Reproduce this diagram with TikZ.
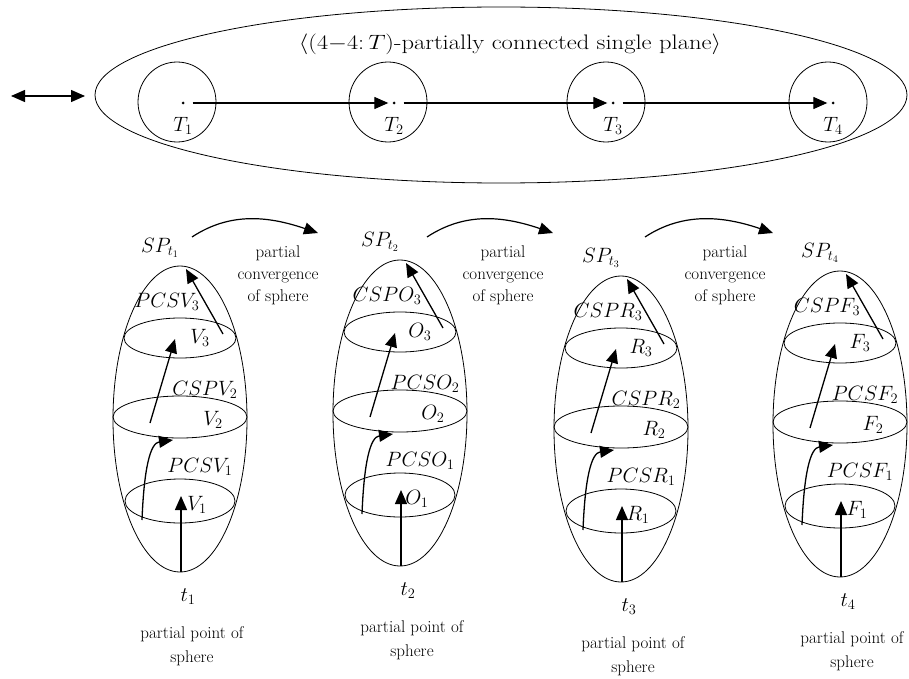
\documentclass[tikz,border=0pt]{standalone}
\usetikzlibrary{arrows.meta,shapes.geometric}
\begin{document}
\begin{tikzpicture}[x=1pt,y=-1pt,
  ell/.style={ellipse,draw,line width=0.8pt,inner sep=0pt,outer sep=0pt},
  arr/.style={line width=1.3pt,-{Triangle[length=14pt,width=12pt]}},
  txt/.style={font=\fontsize{17}{22}\selectfont,align=center,inner sep=0pt},
  lab/.style={font=\fontsize{19.5}{19.5}\selectfont,inner sep=0pt},
  tlab/.style={font=\fontsize{21}{21}\selectfont,inner sep=0pt},
  dot/.style={circle,fill,inner sep=0pt,minimum size=3pt}]
\useasboundingbox (0,0) rectangle (909,679);
% top plane
\node[ell,minimum width=812pt,minimum height=176pt] (plane) at (501,95) {};
\node[font=\fontsize{21}{21}\selectfont,inner sep=0pt,xscale=1.17] (title) at (510,44)
  {$\langle(4{-}4{:}\,T)$-partially connected single plane$\rangle$};
\foreach \i/\cx/\dx in {1/177/183,2/388/394,3/606/613,4/828/833}{
  \node[ell,minimum width=78pt,minimum height=80pt] (C\i) at (\cx,102) {};
  \node[dot] (D\i) at (\dx,103) {};
  \node[tlab] (TL\i) at (\dx,126) {$T_\i$};
}
\draw[arr] ([xshift=8pt]D1.east) -- ([xshift=-4pt]D2.west);
\draw[arr] ([xshift=8pt]D2.east) -- ([xshift=-4pt]D3.west);
\draw[arr] ([xshift=8pt]D3.east) -- ([xshift=-4pt]D4.west);
\coordinate (L1) at (11,96);
\coordinate (L2) at (85,96);
\draw[line width=1.3pt,{Triangle[length=14pt,width=12pt]}-{Triangle[length=14pt,width=12pt]}] (L1) -- (L2);
% spheres
\foreach \i/\cx/\cy/\L/\a/\b/\c in {1/180/419/V/PCS/CSP/PCS,2/400/413/O/CSP/PCS/PCS,3/621/429/R/CSP/CSP/PCS,4/840/424/F/CSP/PCS/PCS}{
  \node[ell,minimum width=134pt,minimum height=306pt] (S\i) at (\cx,\cy) {};
  \node[ell,minimum width=112pt,minimum height=40pt] (U\i) at (\cx,\cy-81) {};
  \node[ell,minimum width=134pt,minimum height=42pt] (M\i) at (\cx,\cy-2) {};
  \node[ell,minimum width=110pt,minimum height=44pt] (B\i) at (\cx,\cy+82) {};
  \node[lab] (SP\i) at (\cx-20,\cy-171) {$SP_{t_\i}$};
  \node[lab] (l3\i) at (\cx-13,\cy-117) {$\a\L_3$};
  \node[lab] (v3\i) at (\cx+20,\cy-81) {$\L_3$};
  \node[lab] (l2\i) at (\cx+25,\cy-29) {$\b\L_2$};
  \node[lab] (v2\i) at (\cx+33,\cy+1) {$\L_2$};
  \node[lab] (l1\i) at (\cx+20,\cy+48) {$\c\L_1$};
  \node[lab] (v1\i) at (\cx+17,\cy+86) {$\L_1$};
  \node[lab] (t\i) at (\cx+8,\cy+178) {$t_\i$};
  \node[txt] (pp\i) at (\cx+12,\cy+227) {partial point of\\[2pt]sphere};
  \coordinate (a0\i) at (\cx+1,\cy+153);
  \coordinate (a1\i) at (\cx+1,\cy+77);
  \coordinate (b0\i) at (\cx-38,\cy+101);
  \coordinate (b1\i) at (\cx-7,\cy+21);
  \coordinate (c0\i) at (\cx-30,\cy+4);
  \coordinate (c1\i) at (\cx-5,\cy-80);
  \coordinate (d0\i) at (\cx+43,\cy-85);
  \coordinate (d1\i) at (\cx+6,\cy-150);
  \draw[arr] (a0\i) -- (a1\i);
  \draw[arr] (b0\i) .. controls (\cx-36,\cy+50) and (\cx-30,\cy+24) .. (b1\i);
  \draw[arr] (c0\i) -- (c1\i);
  \draw[arr] (d0\i) -- (d1\i);
}
% partial convergence arrows
\foreach \k/\sx/\ex/\tx in {1/192/318/278,2/427/553/503,3/645/773/725}{
  \coordinate (p0\k) at (\sx,237);
  \coordinate (p1\k) at (\ex,233);
  \draw[line width=1.2pt,-{Triangle[length=14pt,width=12pt]}] (p0\k) .. controls (\sx+38,212) and (\ex-50,216) .. (p1\k);
  \node[txt] (pc\k) at (\tx,275) {partial\\convergence\\of sphere};
}
\end{tikzpicture}
\end{document}
